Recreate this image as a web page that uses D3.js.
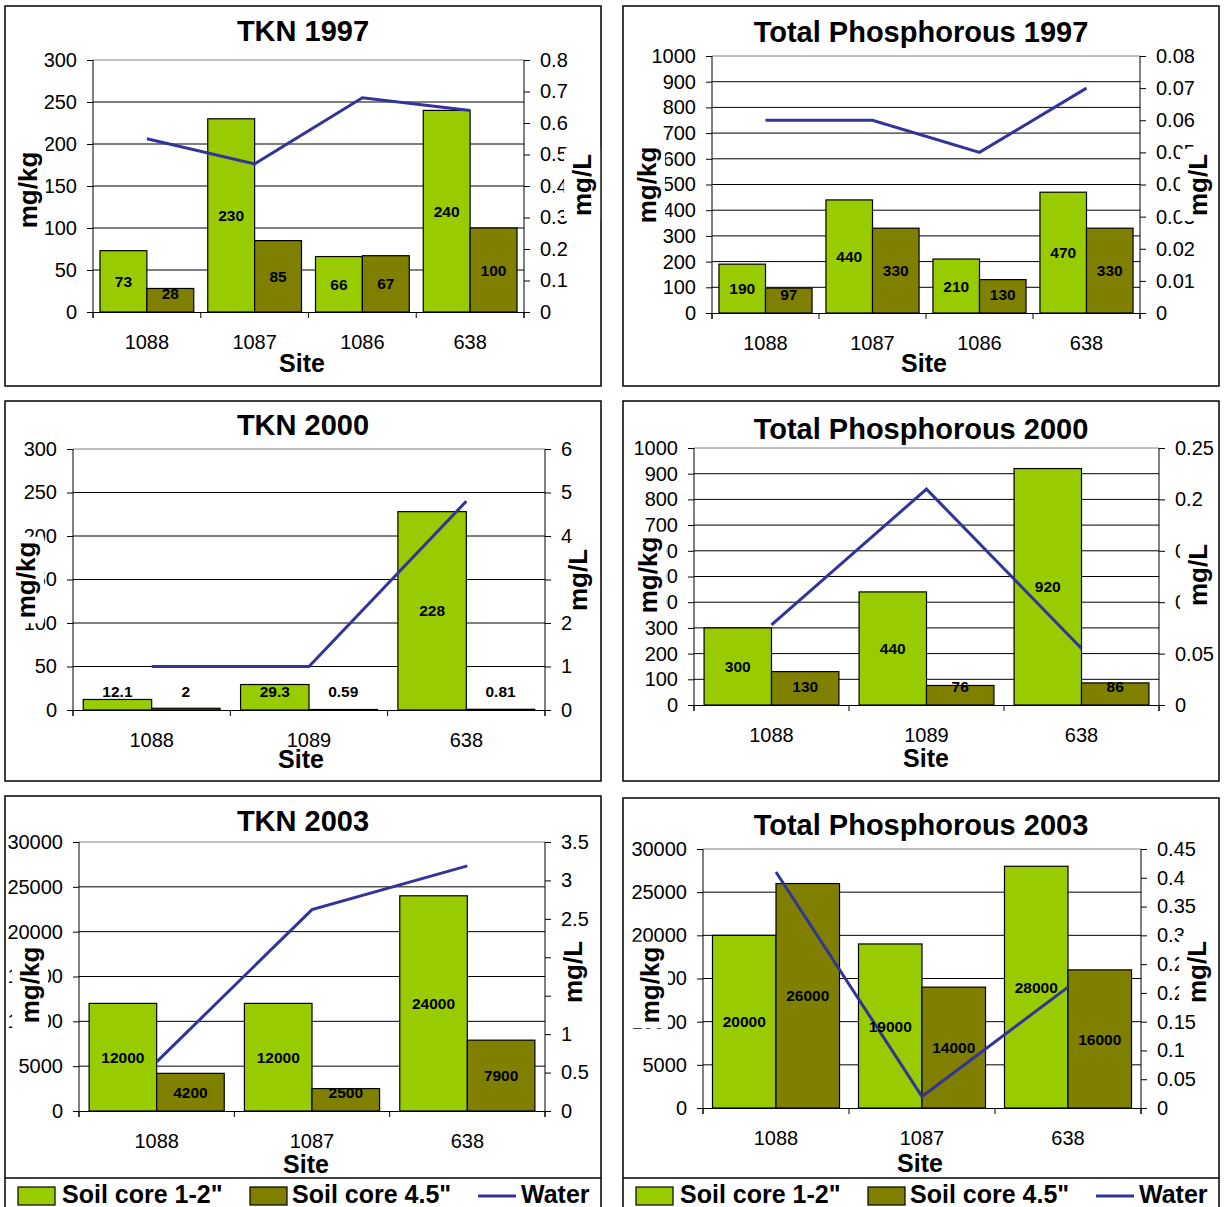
<!DOCTYPE html>
<html><head><meta charset="utf-8">
<script src="https://cdn.jsdelivr.net/npm/d3@7"></script>
<style>
body{margin:0;background:#fff}
text{font-family:"Liberation Sans",Arial,sans-serif;fill:#000}
</style>
</head><body>
<script>
// ---------------- DATA ----------------
const seriesNames = ["Soil core 1-2\"", "Soil core 4.5\"", "Water"];

const tkn1997Sites = ["1088", "1087", "1086", "638"];
const tkn1997Soil12 = [73, 230, 66, 240];
const tkn1997Soil45 = [28, 85, 67, 100];
const tkn1997Water = [0.55, 0.47, 0.68, 0.64];
const tkn1997LeftTicks = [0, 50, 100, 150, 200, 250, 300];
const tkn1997RightTicks = [0, 0.1, 0.2, 0.3, 0.4, 0.5, 0.6, 0.7, 0.8];

const tp1997Sites = ["1088", "1087", "1086", "638"];
const tp1997Soil12 = [190, 440, 210, 470];
const tp1997Soil45 = [97, 330, 130, 330];
const tp1997Water = [0.06, 0.06, 0.05, 0.07];
const tp1997LeftTicks = [0, 100, 200, 300, 400, 500, 600, 700, 800, 900, 1000];
const tp1997RightTicks = [0, 0.01, 0.02, 0.03, 0.04, 0.05, 0.06, 0.07, 0.08];

const tkn2000Sites = ["1088", "1089", "638"];
const tkn2000Soil12 = [12.1, 29.3, 228];
const tkn2000Soil45 = [2, 0.59, 0.81];
const tkn2000Water = [1.0, 1.0, 4.8];
const tkn2000LeftTicks = [0, 50, 100, 150, 200, 250, 300];
const tkn2000RightTicks = [0, 1, 2, 3, 4, 5, 6];

const tp2000Sites = ["1088", "1089", "638"];
const tp2000Soil12 = [300, 440, 920];
const tp2000Soil45 = [130, 76, 86];
const tp2000Water = [0.078, 0.21, 0.055];
const tp2000LeftTicks = [0, 100, 200, 300, 400, 500, 600, 700, 800, 900, 1000];
const tp2000RightTicks = [0, 0.05, 0.1, 0.15, 0.2, 0.25];

const tkn2003Sites = ["1088", "1087", "638"];
const tkn2003Soil12 = [12000, 12000, 24000];
const tkn2003Soil45 = [4200, 2500, 7900];
const tkn2003Water = [0.64, 2.62, 3.19];
const tkn2003LeftTicks = [0, 5000, 10000, 15000, 20000, 25000, 30000];
const tkn2003RightTicks = [0, 0.5, 1, 1.5, 2, 2.5, 3, 3.5];

const tp2003Sites = ["1088", "1087", "638"];
const tp2003Soil12 = [20000, 19000, 28000];
const tp2003Soil45 = [26000, 14000, 16000];
const tp2003Water = [0.41, 0.02, 0.21];
const tp2003LeftTicks = [0, 5000, 10000, 15000, 20000, 25000, 30000];
const tp2003RightTicks = [0, 0.05, 0.1, 0.15, 0.2, 0.25, 0.3, 0.35, 0.4, 0.45];

// ---------------- STYLE ----------------
const GREEN = "#99CC00", OLIVE = "#808000", LINE = "#333399";
const FONT = '"Liberation Sans",Arial,sans-serif';

const svg = d3.select("body").append("svg").attr("width", 1225).attr("height", 1207);
svg.append("rect").attr("width", 1225).attr("height", 1207).attr("fill", "#fff");

const panels = [
  {title: "TKN 1997", sites: tkn1997Sites, s12: tkn1997Soil12, s45: tkn1997Soil45, water: tkn1997Water,
   lt: tkn1997LeftTicks, rt: tkn1997RightTicks,
   frame: [5, 6, 601, 386], plot: [93, 60, 524, 312], titleY: 41, site: [302, 372], leftT: [28, 190], rightT: [582, 185], legend: false},
  {title: "Total Phosphorous 1997", sites: tp1997Sites, s12: tp1997Soil12, s45: tp1997Soil45, water: tp1997Water,
   lt: tp1997LeftTicks, rt: tp1997RightTicks,
   frame: [623, 6, 1219, 386], plot: [712, 56, 1140, 313], titleY: 42, site: [924, 372], leftT: [647, 185], rightT: [1198, 185], legend: false},
  {title: "TKN 2000", sites: tkn2000Sites, s12: tkn2000Soil12, s45: tkn2000Soil45, water: tkn2000Water,
   lt: tkn2000LeftTicks, rt: tkn2000RightTicks,
   frame: [5, 401, 601, 781], plot: [73, 449, 545, 710], titleY: 435, site: [301, 768], leftT: [26, 580], rightT: [578, 580], legend: false},
  {title: "Total Phosphorous 2000", sites: tp2000Sites, s12: tp2000Soil12, s45: tp2000Soil45, water: tp2000Water,
   lt: tp2000LeftTicks, rt: tp2000RightTicks,
   frame: [623, 401, 1219, 781], plot: [694, 448, 1159, 705], titleY: 439, site: [926, 767], leftT: [648, 575], rightT: [1198, 575], legend: false},
  {title: "TKN 2003", sites: tkn2003Sites, s12: tkn2003Soil12, s45: tkn2003Soil45, water: tkn2003Water,
   lt: tkn2003LeftTicks, rt: tkn2003RightTicks,
   frame: [5, 796, 601, 1230], plot: [79, 842, 545, 1111], titleY: 831, site: [306, 1173], leftT: [30, 985], rightT: [573, 972], legend: true},
  {title: "Total Phosphorous 2003", sites: tp2003Sites, s12: tp2003Soil12, s45: tp2003Soil45, water: tp2003Water,
   lt: tp2003LeftTicks, rt: tp2003RightTicks,
   frame: [623, 798, 1219, 1230], plot: [703, 849, 1141, 1108], titleY: 835, site: [920, 1172], leftT: [650, 985], rightT: [1197, 972], legend: true}
];

function axisTitle(g, text, cx, cy) {
  const tg = g.append("g").attr("transform", `translate(${cx},${cy}) rotate(-90)`);
  const rect = tg.append("rect").attr("fill", "#fff");
  const t = tg.append("text").attr("text-anchor", "middle").attr("dy", "0.35em")
    .style("font-size", "26px").style("font-weight", "bold").text(text);
  const bb = t.node().getBBox();
  rect.attr("x", bb.x - 5).attr("y", bb.y - 3).attr("width", bb.width + 10).attr("height", bb.height + 6);
}

panels.forEach(p => {
  const g = svg.append("g");
  const [fx0, fy0, fx1, fy1] = p.frame;
  g.append("rect").attr("x", fx0).attr("y", fy0).attr("width", fx1 - fx0).attr("height", fy1 - fy0)
    .attr("fill", "#fff").attr("stroke", "#000").attr("stroke-width", 1.5);

  const [l, t, r, b] = p.plot;
  const x = d3.scaleBand().domain(p.sites).range([l, r]);
  const yL = d3.scaleLinear().domain([0, d3.max(p.lt)]).range([b, t]);
  const yR = d3.scaleLinear().domain([0, d3.max(p.rt)]).range([b, t]);

  // title
  g.append("text").attr("x", (fx0 + fx1) / 2).attr("y", p.titleY).attr("text-anchor", "middle")
    .style("font-size", "29px").style("font-weight", "bold").text(p.title);

  // gridlines
  g.append("g").selectAll("line").data(p.lt.filter(v => v > 0)).join("line")
    .attr("x1", l).attr("x2", r).attr("y1", d => yL(d)).attr("y2", d => yL(d))
    .attr("stroke", d => d === d3.max(p.lt) ? "#808080" : "#000").attr("stroke-width", 1);

  // bars
  const bw = x.bandwidth() * 0.435;
  const rows = p.sites.map((s, i) => ({site: s, a: p.s12[i], c: p.s45[i], w: p.water[i]}));
  const barData = [];
  rows.forEach(d => {
    const cx = x(d.site) + x.bandwidth() / 2;
    barData.push({x: cx - bw, v: d.a, fill: GREEN});
    barData.push({x: cx, v: d.c, fill: OLIVE});
  });
  g.append("g").selectAll("rect").data(barData).join("rect")
    .attr("x", d => d.x).attr("width", bw)
    .attr("y", d => yL(d.v)).attr("height", d => b - yL(d.v))
    .attr("fill", d => d.fill).attr("stroke", "#000").attr("stroke-width", 1.2);

  // axes
  const la = g.append("g").attr("transform", `translate(${l},0)`)
    .call(d3.axisLeft(yL).tickValues(p.lt).tickSize(6).tickSizeOuter(0).tickPadding(10).tickFormat(d => String(d)));
  la.select(".domain").remove();
  la.selectAll("text").style("font-size", "20px").style("font-family", FONT);
  la.selectAll("line").attr("stroke", "#000");
  g.append("line").attr("x1", l).attr("x2", l).attr("y1", t).attr("y2", b + 6).attr("stroke", "#000");

  const ra = g.append("g").attr("transform", `translate(${r},0)`)
    .call(d3.axisRight(yR).tickValues(p.rt).tickSize(6).tickSizeOuter(0).tickPadding(10).tickFormat(d => String(d)));
  ra.select(".domain").remove();
  ra.selectAll("text").style("font-size", "20px").style("font-family", FONT);
  ra.selectAll("line").attr("stroke", "#000");
  g.append("line").attr("x1", r).attr("x2", r).attr("y1", t).attr("y2", b + 6).attr("stroke", "#000");

  const ba = g.append("g").attr("transform", `translate(0,${b})`)
    .call(d3.axisBottom(x).tickSize(0).tickPadding(23));
  ba.select(".domain").attr("stroke", "#000");
  ba.selectAll("text").style("font-size", "20px").style("font-family", FONT);
  // boundary ticks
  const bounds = p.sites.map(s => x(s)).concat([r]);
  g.append("g").selectAll("line").data(bounds).join("line")
    .attr("x1", d => d).attr("x2", d => d).attr("y1", b).attr("y2", b + 6).attr("stroke", "#000");

  // water line
  const line = d3.line().x(d => x(d.site) + x.bandwidth() / 2).y(d => yR(d.w));
  g.append("path").datum(rows).attr("d", line).attr("fill", "none")
    .attr("stroke", LINE).attr("stroke-width", 3).attr("stroke-linejoin", "miter");

  // data labels
  g.append("g").selectAll("text").data(barData).join("text")
    .attr("x", d => d.x + bw / 2)
    .attr("y", d => Math.min((yL(d.v) + b) / 2, b - 19))
    .attr("dy", "0.36em").attr("text-anchor", "middle")
    .style("font-size", "15.5px").style("font-weight", "bold")
    .text(d => String(d.v));

  // x title
  g.append("text").attr("x", p.site[0]).attr("y", p.site[1]).attr("text-anchor", "middle")
    .style("font-size", "25px").style("font-weight", "bold").text("Site");

  // axis titles
  axisTitle(g, "mg/kg", p.leftT[0], p.leftT[1]);
  axisTitle(g, "mg/L", p.rightT[0], p.rightT[1]);

  // legend
  if (p.legend) {
    const ly = 1178;
    g.append("line").attr("x1", fx0).attr("x2", fx1).attr("y1", ly).attr("y2", ly).attr("stroke", "#000").attr("stroke-width", 1.5);
    const items = [
      {type: "rect", fill: GREEN, sx: 13, tx: 57, name: seriesNames[0]},
      {type: "rect", fill: OLIVE, sx: 245, tx: 287, name: seriesNames[1]},
      {type: "line", fill: LINE, sx: 473, tx: 516, name: seriesNames[2]}
    ];
    const lg = g.append("g");
    items.forEach(it => {
      if (it.type === "rect") {
        lg.append("rect").attr("x", fx0 + it.sx).attr("y", 1187).attr("width", 37).attr("height", 18)
          .attr("fill", it.fill).attr("stroke", "#000").attr("stroke-width", 1.2);
      } else {
        lg.append("line").attr("x1", fx0 + it.sx).attr("x2", fx0 + it.sx + 38).attr("y1", 1196).attr("y2", 1196)
          .attr("stroke", it.fill).attr("stroke-width", 3);
      }
      lg.append("text").attr("x", fx0 + it.tx).attr("y", 1203)
        .style("font-size", "25px").style("font-weight", "bold").text(it.name);
    });
  }
});
</script>
</body></html>
